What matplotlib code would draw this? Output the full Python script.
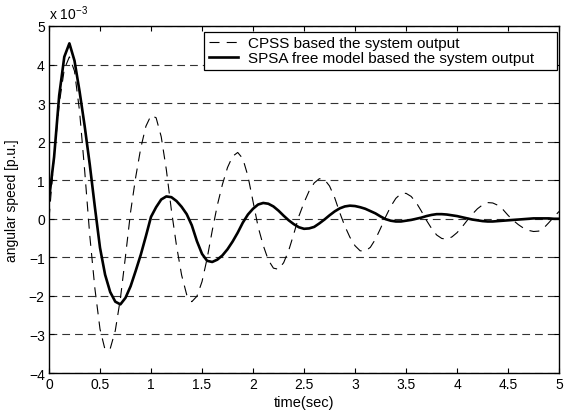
import matplotlib

matplotlib.use("Agg")

import matplotlib.pyplot as plt
import numpy as np

plt.rcParams["font.family"] = ["Liberation Sans", "DejaVu Sans"]
plt.rcParams["mathtext.default"] = "regular"

# time axis (sec), sampled every 0.05 s
time_sec = np.arange(0, 101) * 0.05

# angular speed in units of 1e-3 p.u.
cpss_output = [
    0.00, 1.61, 2.97, 3.88, 4.20, 3.83, 2.78, 1.24, -0.44, -1.81,
    -2.86, -3.40, -3.37, -2.90, -2.07, -0.97, 0.18, 1.08, 1.84, 2.40,
    2.68, 2.62, 2.13, 1.28, 0.22, -0.70, -1.46, -1.97, -2.15, -2.01,
    -1.63, -1.03, -0.31, 0.35, 0.89, 1.33, 1.62, 1.72, 1.56, 1.11,
    0.45, -0.21, -0.69, -1.07, -1.28, -1.31, -1.14, -0.82, -0.39, 0.07,
    0.42, 0.72, 0.93, 1.04, 1.02, 0.85, 0.55, 0.16, -0.19, -0.48,
    -0.70, -0.83, -0.84, -0.74, -0.53, -0.25, 0.05, 0.32, 0.53, 0.65,
    0.66, 0.58, 0.42, 0.20, -0.04, -0.25, -0.42, -0.51, -0.53, -0.47,
    -0.36, -0.21, -0.04, 0.12, 0.26, 0.36, 0.42, 0.41, 0.35, 0.24,
    0.09, -0.04, -0.15, -0.24, -0.30, -0.33, -0.32, -0.24, -0.10, 0.05,
    0.19,
]
spsa_output = [
    0.50, 1.60, 3.20, 4.20, 4.55, 4.10, 3.30, 2.40, 1.40, 0.30,
    -0.75, -1.45, -1.90, -2.15, -2.22, -2.05, -1.75, -1.35, -0.93, -0.45,
    0.05, 0.30, 0.50, 0.58, 0.56, 0.46, 0.31, 0.12, -0.17, -0.58,
    -0.91, -1.09, -1.12, -1.06, -0.95, -0.79, -0.59, -0.36, -0.10, 0.11,
    0.26, 0.37, 0.41, 0.39, 0.32, 0.21, 0.08, -0.04, -0.14, -0.22,
    -0.26, -0.25, -0.21, -0.12, -0.02, 0.09, 0.19, 0.27, 0.32, 0.34,
    0.33, 0.30, 0.26, 0.20, 0.14, 0.06, -0.01, -0.05, -0.07, -0.07,
    -0.05, -0.03, 0.00, 0.03, 0.07, 0.10, 0.12, 0.12, 0.11, 0.09,
    0.07, 0.04, 0.01, -0.02, -0.04, -0.06, -0.07, -0.07, -0.06, -0.05,
    -0.04, -0.03, -0.02, -0.01, 0.00, 0.01, 0.01, 0.01, 0.01, 0.00,
    0.00,
]

x_ticks = [0, 0.5, 1, 1.5, 2, 2.5, 3, 3.5, 4, 4.5, 5]
x_tick_labels = ["0", "0.5", "1", "1.5", "2", "2.5", "3", "3.5", "4", "4.5", "5"]
y_ticks = [-4, -3, -2, -1, 0, 1, 2, 3, 4, 5]

fig = plt.figure(figsize=(5.67, 4.14), dpi=100)
ax = fig.add_axes([0.0864, 0.0966, 0.8996, 0.8382])

ax.plot(time_sec, cpss_output, color="black", linewidth=0.8,
        linestyle=(0, (9, 6.5)), label="CPSS based the system output")
ax.plot(time_sec, spsa_output, color="black", linewidth=1.9,
        label="SPSA free model based the system output")

ax.set_xlim(0, 5)
ax.set_ylim(-4, 5)
ax.set_xticks(x_ticks)
ax.set_xticklabels(x_tick_labels)
ax.set_yticks(y_ticks)
ax.yaxis.grid(True, color="0.2", linewidth=0.8, linestyle=(0, (7, 4.5)))
ax.tick_params(direction="in", top=True, right=True, length=3.5,
               width=0.8, labelsize=10, pad=3)
for spine in ax.spines.values():
    spine.set_linewidth(1.0)

ax.set_xlabel("time(sec)", fontsize=10.5)
ax.xaxis.set_label_coords(0.5, -0.062)
ax.set_ylabel("angular speed [p.u.]", fontsize=10)
ax.yaxis.set_label_coords(-0.058, 0.5)
ax.text(0.0, 1.012, r"x 10$^{-3}$", transform=ax.transAxes, fontsize=10,
        ha="left", va="bottom")

# stretched box like the original legend, text stays left
leg = ax.legend(loc="upper right", bbox_to_anchor=(0.304, 0.87, 0.692, 0.113),
                mode="expand", fontsize=11,
                frameon=True, fancybox=False, edgecolor="black",
                framealpha=1, borderpad=0.3, labelspacing=0.05,
                handlelength=1.9, handletextpad=0.65, borderaxespad=0)
leg.get_frame().set_linewidth(0.9)

fig.savefig("out.png", dpi=100)
